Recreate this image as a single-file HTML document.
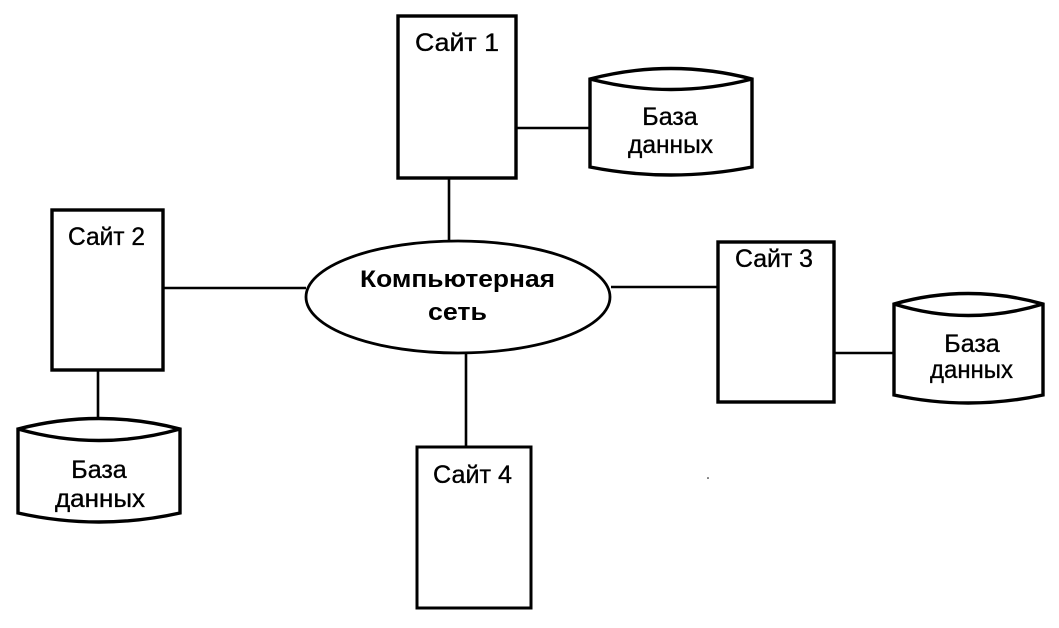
<!DOCTYPE html>
<html><head><meta charset="utf-8"><style>
html,body{margin:0;padding:0;background:#fff;}
svg{display:block;}
text{font-family:"Liberation Sans","DejaVu Sans",sans-serif;fill:#000;}
</style></head><body>
<svg width="1059" height="628" viewBox="0 0 1059 628" xmlns="http://www.w3.org/2000/svg">
<g stroke="#000" fill="none" stroke-width="2.6">
  <!-- connectors -->
  <line x1="516" y1="128" x2="592" y2="128"/>
  <line x1="449" y1="178" x2="449" y2="241"/>
  <line x1="163" y1="288" x2="306" y2="288"/>
  <line x1="611" y1="287" x2="718" y2="287"/>
  <line x1="466" y1="353" x2="466" y2="447"/>
  <line x1="98" y1="370" x2="98" y2="420"/>
  <line x1="834" y1="353" x2="895" y2="353"/>
</g>
<g stroke="#000" fill="#fff" stroke-width="3.4">
  <!-- site boxes -->
  <rect x="398" y="16" width="118" height="162"/>
  <rect x="52" y="210" width="111" height="160"/>
  <rect x="718" y="242" width="116" height="160"/>
  <rect x="417" y="447" width="114" height="161" stroke-width="3"/>
  <!-- ellipse -->
  <ellipse cx="458" cy="297" rx="152" ry="56" stroke-width="2.8"/>
  <!-- DB1 -->
  <path d="M590,79 Q671,58 752,79 L752,167 Q671,183 590,167 Z"/>
  <path d="M590,79 Q671,100 752,79" fill="none"/>
  <!-- DB2 -->
  <path d="M18,429 Q99,408 180,429 L180,513 Q99,531 18,513 Z"/>
  <path d="M18,429 Q99,452 180,429" fill="none"/>
  <!-- DB3 -->
  <path d="M894,304 Q968,283 1043,304 L1043,395 Q968,411 894,395 Z"/>
  <path d="M894,304 Q968,327 1043,304" fill="none"/>
</g>
<circle cx="708" cy="478" r="0.8" fill="#000"/>
<g font-size="25" stroke="#000" stroke-width="0.35">
  <text x="415" y="51" textLength="84" lengthAdjust="spacingAndGlyphs">Сайт 1</text>
  <text x="68" y="245" textLength="77" lengthAdjust="spacingAndGlyphs">Сайт 2</text>
  <text x="735" y="267" textLength="78" lengthAdjust="spacingAndGlyphs">Сайт 3</text>
  <text x="433" y="483" textLength="79" lengthAdjust="spacingAndGlyphs">Сайт 4</text>

  <text x="670" y="125" text-anchor="middle">База</text>
  <text x="628" y="153" textLength="85" lengthAdjust="spacingAndGlyphs">данных</text>

  <text x="99" y="478" text-anchor="middle">База</text>
  <text x="55" y="507" textLength="90" lengthAdjust="spacingAndGlyphs">данных</text>

  <text x="972" y="352" text-anchor="middle">База</text>
  <text x="930" y="378" textLength="83" lengthAdjust="spacingAndGlyphs">данных</text>
</g>
<g font-size="24" font-weight="bold">
  <text x="360" y="287" textLength="195" lengthAdjust="spacingAndGlyphs">Компьютерная</text>
  <text x="428" y="320" textLength="59" lengthAdjust="spacingAndGlyphs">сеть</text>
</g>
</svg>
</body></html>
